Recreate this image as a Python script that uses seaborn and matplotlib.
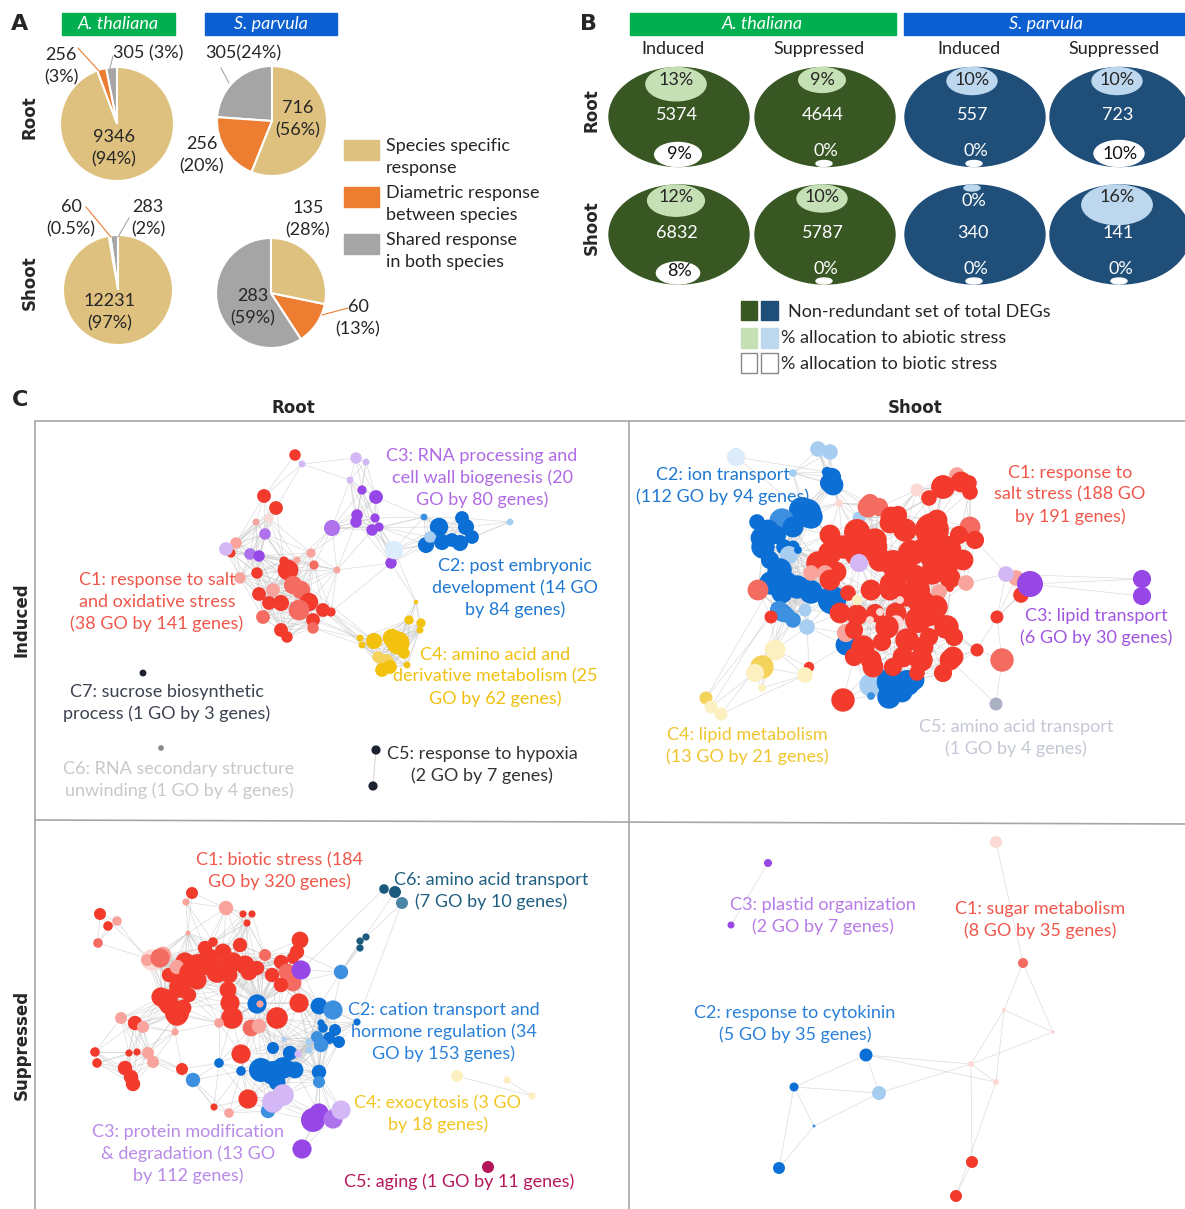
import numpy as np
import pandas as pd
import matplotlib
matplotlib.use("Agg")
import matplotlib.pyplot as plt
import seaborn as sns
from matplotlib.patches import Ellipse, Rectangle
from matplotlib.collections import LineCollection

# ---------------- data ----------------
# panel A: pie slices, order = shared, diametric, species specific
root_athal = [305, 256, 9346]
root_sparv = [305, 256, 716]
shoot_athal = [283, 60, 12231]
shoot_sparv = [283, 60, 135]
pie_legend = ["Species specific\nresponse", "Diametric response\nbetween species", "Shared response\nin both species"]

# panel B: DEG totals and % allocation
b_columns = ["Induced", "Suppressed", "Induced", "Suppressed"]
deg_root = [5374, 4644, 557, 723]
deg_shoot = [6832, 5787, 340, 141]
abiotic_root = [13, 9, 10, 10]
abiotic_shoot = [12, 10, 0, 16]
biotic_root = [9, 0, 0, 10]
biotic_shoot = [8, 0, 0, 0]

# panel C: network nodes (x, y, radius, colour key)
root_ind_nodes = [
    (295, 455, 5, 'r'), (264, 496, 6, 'r'), (276, 508, 6, 'r'), (269, 518, 4, 'r4'), (256, 522, 3, 'r3'),
    (236, 543, 5, 'r3'), (231, 553, 4, 'r'), (257, 573, 5, 'r'), (240, 578, 5, 'r3'), (288, 570, 9, 'r'),
    (297, 560, 3, 'r3'), (311, 553, 4, 'r3'), (314, 565, 4, 'r2'), (337, 570, 3, 'r3'), (259, 594, 6, 'r'),
    (273, 590, 6, 'r3'), (293, 585, 8, 'r2'), (301, 590, 8, 'r2'), (309, 602, 8, 'r'), (299, 610, 9, 'r2'),
    (281, 603, 7, 'r'), (269, 603, 6, 'r'), (263, 617, 6, 'r2'), (323, 610, 6, 'r'), (313, 620, 6, 'r'),
    (313, 628, 5, 'r2'), (281, 630, 6, 'r'), (287, 637, 5, 'r'), (284, 561, 4, 'r'), (331, 612, 4, 'r'),
    (356, 458, 5, 'p3'), (366, 462, 3, 'p3'), (302, 464, 3, 'p3'), (350, 480, 3, 'p3'), (362, 490, 4, 'p'),
    (376, 497, 6, 'p'), (357, 515, 5, 'p'), (356, 522, 5, 'p'), (375, 518, 4, 'p'), (372, 530, 5, 'p'),
    (379, 527, 4, 'p'), (332, 528, 7, 'p2'), (265, 534, 5, 'p2'), (226, 549, 6, 'p3'), (250, 554, 5, 'p2'),
    (259, 556, 5, 'p'), (391, 563, 5, 'p'),
    (424, 517, 3, 'b2'), (439, 527, 8, 'b'), (426, 545, 7, 'b'), (442, 542, 7, 'b'), (430, 537, 5, 'b3'),
    (452, 540, 6, 'b'), (462, 518, 6, 'b'), (466, 527, 7, 'b'), (460, 543, 7, 'b'), (472, 537, 6, 'b'),
    (510, 522, 3, 'b3'), (394, 550, 8, 'b4'),
    (416, 602, 2, 'y'), (409, 620, 4, 'y'), (421, 623, 4, 'y'), (420, 630, 3, 'y'), (374, 641, 7, 'y'),
    (360, 638, 3, 'y'), (362, 645, 3, 'y'), (398, 643, 10, 'y'), (392, 638, 8, 'y'), (386, 662, 7, 'y2'),
    (382, 670, 6, 'y'), (390, 667, 6, 'y'), (407, 665, 3, 'y'), (404, 653, 5, 'y'), (378, 657, 5, 'y2'),
    (143, 673, 3, 'k'), (161, 748, 2.5, 'g'), (376, 750, 4, 'k'), (373, 786, 4, 'k'),
]
root_sup_nodes = [
    (192, 893, 5, 'r'), (186, 902, 3, 'r3'), (226, 908, 6, 'r3'), (243, 914, 3, 'r'), (252, 914, 3, 'r'),
    (247, 923, 3, 'r'), (100, 914, 5, 'r'), (108, 926, 4, 'r'), (117, 921, 4, 'r3'), (98, 943, 4, 'r2'),
    (188, 933, 2, 'r3'), (152, 960, 9, 'r4'), (163, 955, 7, 'r3'), (147, 960, 5, 'r3'), (213, 942, 4, 'r'),
    (297, 952, 6, 'r'), (293, 958, 5, 'r'), (185, 962, 8, 'r'), (197, 965, 9, 'r'), (209, 958, 8, 'r'),
    (223, 952, 7, 'r'), (233, 962, 8, 'r'), (245, 965, 8, 'r'), (217, 972, 9, 'r'), (181, 978, 8, 'r'),
    (197, 980, 8, 'r'), (229, 975, 7, 'r'), (249, 972, 7, 'r'), (257, 968, 6, 'r'), (281, 962, 6, 'r'),
    (287, 972, 7, 'r2'), (293, 983, 7, 'r2'), (281, 985, 6, 'r'), (169, 975, 6, 'r'), (177, 967, 6, 'r3'),
    (161, 997, 8, 'r'), (169, 1005, 8, 'r'), (177, 1015, 9, 'r'), (183, 1008, 7, 'r'), (189, 995, 6, 'r'),
    (230, 1003, 8, 'r'), (232, 1018, 9, 'r'), (121, 1018, 5, 'r3'), (135, 1023, 6, 'r'), (143, 1027, 5, 'r3'),
    (175, 1032, 3, 'r3'), (219, 1023, 4, 'r3'), (251, 1028, 7, 'r2'), (259, 1026, 6, 'r3'), (277, 1018, 9, 'r'),
    (299, 1003, 8, 'r'), (261, 1002, 3, 'r3'), (95, 1052, 4, 'r'), (97, 1063, 4, 'r'), (129, 1053, 3, 'r'),
    (137, 1052, 3, 'r'), (148, 1053, 5, 'r3'), (153, 1062, 5, 'r3'), (125, 1068, 6, 'r'), (131, 1077, 6, 'r'),
    (133, 1084, 6, 'r'), (182, 1069, 5, 'r'), (241, 1054, 8, 'r'), (248, 1099, 8, 'r'), (214, 1107, 3, 'r'),
    (229, 1113, 4, 'r3'), (205, 948, 6, 'r'), (240, 945, 6, 'r'), (265, 955, 5, 'r2'), (272, 975, 6, 'r'),
    (207, 963, 10, 'r'), (227, 967, 9, 'r'), (190, 973, 9, 'r'), (180, 987, 9, 'r'), (167, 1000, 9, 'r'),
    (177, 1013, 10, 'r'), (160, 958, 8, 'r2'), (228, 990, 7, 'r'), (300, 940, 7, 'r'),
    (341, 972, 6, 'b2'), (257, 1004, 8, 'b'), (319, 1006, 7, 'b'), (333, 1010, 8, 'b2'), (321, 1023, 3, 'b'),
    (323, 1028, 4, 'b'), (335, 1030, 5, 'b'), (317, 1037, 5, 'b2'), (329, 1038, 5, 'b'), (339, 1042, 5, 'b'),
    (321, 1045, 6, 'b2'), (309, 1042, 3, 'b3'), (309, 1050, 3, 'b3'), (284, 1039, 2, 'b3'), (273, 1048, 5, 'b'),
    (290, 1053, 6, 'b'), (219, 1063, 4, 'b'), (241, 1071, 4, 'b'), (261, 1070, 10, 'b'), (273, 1073, 10, 'b'),
    (283, 1068, 9, 'b'), (295, 1070, 7, 'b'), (277, 1082, 7, 'b'), (319, 1072, 6, 'b'), (319, 1082, 5, 'b2'),
    (193, 1080, 6, 'b2'), (268, 1111, 6, 'b2'), (357, 1022, 3, 'b'), (260, 1004, 3, 'r3'),
    (301, 970, 8, 'p'), (298, 1054, 3, 'p3'), (273, 1102, 9, 'p3'), (283, 1095, 9, 'p3'), (313, 1120, 10, 'p'),
    (319, 1113, 8, 'p'), (333, 1119, 8, 'p2'), (341, 1110, 8, 'p3'), (302, 1149, 8, 'p'),
    (384, 889, 4, 't'), (395, 892, 5, 't'), (402, 903, 5, 't2'), (366, 937, 3, 't'), (360, 941, 3, 't'),
    (360, 948, 3, 't'),
    (457, 1076, 5, 'y3'), (507, 1080, 3, 'y3'), (532, 1096, 3, 'y3'),
    (488, 1167, 5, 'm'),
]
shoot_ind_nodes = [
    (736, 457, 7, 'b4'), (818, 449, 6, 'b3'), (830, 452, 6, 'b3'), (793, 473, 3, 'b3'), (827, 472, 4, 'b'),
    (833, 485, 8, 'b'), (829, 483, 7, 'b'), (832, 477, 7, 'b'), (802, 510, 10, 'b'), (811, 517, 9, 'b'),
    (807, 513, 11, 'b'), (782, 520, 9, 'b2'), (780, 520, 8, 'b2'),
    (793, 527, 8, 'b'), (768, 530, 8, 'b'), (761, 538, 8, 'b'), (767, 533, 10, 'b'), (763, 547, 9, 'b'),
    (764, 547, 7, 'b'), (777, 535, 7, 'b'),
    (784, 547, 6, 'b'), (793, 547, 5, 'b'), (789, 555, 7, 'b3'), (798, 550, 3, 'b'), (779, 572, 9, 'b'),
    (780, 570, 9, 'b'), (777, 583, 10, 'b'), (797, 587, 9, 'b'), (810, 590, 8, 'b'),
    (771, 583, 9, 'b'), (786, 583, 9, 'b'), (800, 587, 8, 'b'), (811, 592, 9, 'b'), (782, 593, 8, 'b'),
    (832, 600, 11, 'b'), (779, 610, 7, 'b2'), (787, 615, 6, 'b2'), (793, 620, 6, 'b2'), (783, 613, 7, 'b2'),
    (805, 610, 5, 'b3'),
    (807, 627, 6, 'b3'), (859, 518, 5, 'b3'), (846, 645, 8, 'b'), (871, 685, 9, 'b3'), (891, 682, 11, 'b'),
    (907, 683, 10, 'b'), (889, 697, 9, 'b'), (902, 692, 8, 'b'), (914, 680, 8, 'b'), (871, 696, 3, 'b2'),
    (770, 560, 7, 'b'), (757, 522, 6, 'b'),
    (957, 475, 6, 'r3'), (943, 487, 9, 'r'), (961, 482, 8, 'r'), (969, 483, 6, 'r'), (970, 492, 6, 'r'),
    (929, 498, 6, 'r'), (917, 490, 5, 'r4'), (868, 507, 8, 'r2'), (879, 507, 7, 'r2'), (891, 517, 8, 'r'),
    (898, 515, 7, 'r'), (839, 503, 3, 'r4'), (932, 530, 13, 'r'), (970, 527, 8, 'r2'), (959, 535, 7, 'r'),
    (975, 540, 7, 'r'), (830, 535, 8, 'r'), (857, 532, 10, 'r'), (875, 540, 9, 'r'), (843, 547, 9, 'r'),
    (818, 563, 9, 'r'), (836, 572, 8, 'r'), (825, 573, 6, 'r3'), (857, 553, 10, 'r'), (893, 563, 10, 'r'),
    (911, 553, 10, 'r'), (925, 550, 10, 'r'), (936, 560, 11, 'r'), (946, 567, 9, 'r'), (932, 573, 9, 'r'),
    (950, 578, 8, 'r'), (896, 577, 9, 'r'), (966, 583, 6, 'r3'), (811, 573, 6, 'r3'), (871, 590, 8, 'r'),
    (889, 583, 7, 'r'), (907, 595, 9, 'r'), (939, 592, 6, 'r3'), (950, 588, 3, 'r'), (848, 593, 6, 'r'),
    (921, 602, 10, 'r'), (936, 607, 9, 'r'), (857, 615, 8, 'r'), (875, 613, 7, 'r'), (896, 613, 8, 'r'),
    (918, 620, 10, 'r'), (946, 627, 9, 'r'), (870, 620, 3, 'r4'), (896, 623, 6, 'r4'), (846, 633, 7, 'r3'),
    (854, 630, 7, 'r'), (882, 642, 7, 'r'), (907, 640, 9, 'r'), (929, 637, 7, 'r'), (954, 637, 7, 'r'),
    (854, 657, 7, 'r'), (871, 660, 8, 'r'), (893, 667, 7, 'r'), (921, 660, 9, 'r'), (950, 660, 8, 'r'),
    (977, 650, 5, 'r'), (1002, 660, 9, 'r2'), (997, 617, 5, 'r'), (1021, 595, 6, 'r'), (1016, 578, 6, 'r3'),
    (843, 700, 9, 'r'), (758, 590, 8, 'r2'), (771, 617, 5, 'r'), (809, 667, 4, 'r'), (915, 575, 8, 'r'),
    (880, 560, 9, 'r'), (905, 530, 9, 'r'),
    (873, 547, 11, 'r'), (900, 567, 10, 'r'), (947, 550, 11, 'r'), (917, 590, 10, 'r'), (930, 613, 10, 'r'),
    (947, 627, 9, 'r'), (887, 627, 9, 'r'), (863, 647, 9, 'r'), (873, 667, 8, 'r'), (903, 657, 8, 'r'),
    (923, 647, 8, 'r'), (953, 657, 8, 'r'), (840, 613, 8, 'r'), (830, 580, 8, 'r'), (830, 553, 9, 'r'),
    (857, 537, 9, 'r'), (890, 523, 8, 'r'), (870, 503, 7, 'r2'), (897, 517, 7, 'r'), (943, 487, 9, 'r'),
    (963, 483, 7, 'r'), (937, 520, 8, 'r'), (963, 560, 8, 'r'), (890, 590, 8, 'r'), (917, 673, 6, 'r'),
    (943, 673, 7, 'r'),
    (859, 563, 7, 'p3'), (857, 600, 4, 'y3'), (880, 612, 3, 'r4'), (900, 600, 3, 'r4'),
    (1006, 574, 6, 'p3'), (1030, 584, 10, 'p'), (1142, 579, 7, 'p'), (1142, 596, 7, 'p'),
    (775, 650, 8, 'y3'), (762, 667, 9, 'y2'), (755, 673, 7, 'y3'), (805, 675, 6, 'y3'), (762, 688, 3, 'y3'),
    (706, 698, 5, 'y2'), (711, 707, 5, 'y3'), (721, 714, 5, 'y3'),
    (996, 704, 5, 'gb'),
]
shoot_sup_nodes = [
    (768, 863, 4, 'p'), (731, 925, 3.5, 'p'),
    (996, 842, 6, 'r4'), (1023, 963, 5, 'r2'), (1004, 1010, 2, 'r4'), (1053, 1032, 2, 'r4'),
    (971, 1064, 3, 'r4'), (996, 1082, 3, 'r4'), (972, 1162, 6, 'r'), (956, 1196, 6, 'r'),
    (866, 1055, 6.5, 'b'), (794, 1087, 4.5, 'b'), (879, 1093, 7, 'b3'), (814, 1126, 1.5, 'b2'), (779, 1168, 6, 'b'),
]

# extra long links (pairs of nodes)
shoot_ind_links = [((1030, 584), (1142, 579)), ((1030, 584), (1142, 596)), ((1006, 574), (1142, 579)),
                   ((762, 667), (779, 610)), ((706, 698), (771, 617)), ((711, 707), (782, 593)),
                   ((721, 714), (805, 675)), ((755, 673), (811, 573)), ((736, 457), (802, 510)),
                   ((818, 449), (829, 483)), ((736, 457), (827, 472)), ((706, 698), (779, 572)),
                   ((721, 714), (793, 620)), ((711, 707), (762, 667)), ((1006, 574), (975, 540)),
                   ((1030, 584), (997, 617)), ((996, 704), (950, 660))]
shoot_sup_links = [((768, 863), (731, 925)), ((996, 842), (1023, 963)), ((1023, 963), (1004, 1010)),
                   ((1023, 963), (1053, 1032)), ((1004, 1010), (971, 1064)), ((1004, 1010), (996, 1082)),
                   ((1004, 1010), (1053, 1032)), ((1053, 1032), (971, 1064)), ((971, 1064), (996, 1082)),
                   ((971, 1064), (972, 1162)), ((996, 1082), (956, 1196)), ((972, 1162), (956, 1196)),
                   ((866, 1055), (794, 1087)), ((866, 1055), (879, 1093)), ((794, 1087), (879, 1093)),
                   ((794, 1087), (814, 1126)), ((794, 1087), (779, 1168)), ((814, 1126), (879, 1093)),
                   ((779, 1168), (814, 1126)), ((866, 1055), (996, 1082)), ((879, 1093), (971, 1064)),
                   ((866, 1055), (971, 1064))]
root_ind_links = [((376, 750), (373, 786)), ((331, 612), (391, 563)), ((288, 570), (374, 641)),
                  ((259, 594), (360, 638)), ((394, 550), (416, 602)), ((332, 528), (439, 527))]
root_sup_links = [((457, 1076), (532, 1096)), ((395, 892), (341, 972)), ((384, 889), (301, 970)),
                  ((402, 903), (357, 1022)), ((152, 960), (100, 914)), ((98, 943), (152, 960))]

# cluster labels: text, x, y, colour
root_ind_labels = [
    ("C3: RNA processing and\ncell wall biogenesis (20\nGO by 80 genes)", 482, 478, '#b06ae6'),
    ("C2: post embryonic\ndevelopment (14 GO\nby 84 genes)", 515, 588, '#1f78d1'),
    ("C1: response to salt\nand oxidative stress\n(38 GO by 141 genes)", 157, 602, '#f0574a'),
    ("C4: amino acid and\nderivative metabolism (25\nGO by 62 genes)", 495, 677, '#f0c010'),
    ("C7: sucrose biosynthetic\nprocess (1 GO by 3 genes)", 167, 703, '#3c4250'),
    ("C6: RNA secondary structure\nunwinding (1 GO by 4 genes)", 179, 780, '#c8c8c8'),
    ("C5: response to hypoxia\n(2 GO by 7 genes)", 482, 765, '#333333'),
]
shoot_ind_labels = [
    ("C2: ion transport\n(112 GO by 94 genes)", 723, 486, '#1f78d1'),
    ("C1: response to\nsalt stress (188 GO\nby 191 genes)", 1070, 495, '#f0574a'),
    ("C3: lipid transport\n(6 GO by 30 genes)", 1096, 627, '#a055e2'),
    ("C4: lipid metabolism\n(13 GO by 21 genes)", 747, 746, '#f0c530'),
    ("C5: amino acid transport\n(1 GO by 4 genes)", 1016, 738, '#c3c8d4'),
]
root_sup_labels = [
    ("C1: biotic stress (184\nGO by 320 genes)", 279, 871, '#f0574a'),
    ("C6: amino acid transport\n(7 GO by 10 genes)", 491, 891, '#1f5f82'),
    ("C2: cation transport and\nhormone regulation (34\nGO by 153 genes)", 444, 1032, '#2a80d8'),
    ("C4: exocytosis (3 GO\nby 18 genes)", 438, 1114, '#f3c520'),
    ("C3: protein modification\n& degradation (13 GO\nby 112 genes)", 188, 1154, '#b88ae8'),
    ("C5: aging (1 GO by 11 genes)", 459, 1182, '#b5185c'),
]
shoot_sup_labels = [
    ("C3: plastid organization\n(2 GO by 7 genes)", 823, 916, '#b77be8'),
    ("C1: sugar metabolism\n(8 GO by 35 genes)", 1040, 920, '#f0574a'),
    ("C2: response to cytokinin\n(5 GO by 35 genes)", 795, 1024, '#2a80d8'),
]

node_palette = {
    'r': '#f33b2d', 'r2': '#f46b62', 'r3': '#f8a39c', 'r4': '#fcd9d5',
    'b': '#0b6fd5', 'b2': '#3d8fe0', 'b3': '#a7cdf1', 'b4': '#dcecfb',
    'p': '#9747e6', 'p2': '#ad72ec', 'p3': '#d3b8f5',
    'y': '#f3c20f', 'y2': '#f5d35a', 'y3': '#fcf0c0',
    't': '#1b5a7e', 't2': '#4a86a6', 'k': '#1c2230', 'g': '#8a8a8a',
    'gb': '#a9b1c2', 'm': '#b3175a',
}

# ---------------- figure ----------------
sns.set_style("white")
plt.rcParams["font.family"] = ["Lato", "DejaVu Sans"]

W, H = 1185, 1209
fig = plt.figure(figsize=(W / 100, H / 100), dpi=100)
FS = 13
LS = 1.45
# bold faces: DejaVu Sans ships with a bold weight
BOLD = dict(fontsize=12, fontweight="bold", family="DejaVu Sans")
LETTER = dict(fontsize=16, fontweight="bold", family="DejaVu Sans")

# pies (each in its own axes so the library draws the wedges)
pie_colors = ["#a5a5a5", "#ed7d31", "#dfc17f"]
for (cx, cy, r), vals in zip([(117, 124, 57), (272, 121, 55), (118, 290, 55), (271, 293, 55)],
                             [root_athal, root_sparv, shoot_athal, shoot_sparv]):
    pax = fig.add_axes([(cx - r) / W, 1 - (cy + r) / H, 2 * r / W, 2 * r / H])
    pax.pie(vals, colors=pie_colors, startangle=90, counterclock=True,
            wedgeprops=dict(edgecolor="white", linewidth=1.5))
    pax.set_xlim(-1.0, 1.0)
    pax.set_ylim(-1.0, 1.0)
    pax.set_aspect("auto")
    pax.axis("off")

# overlay axes in pixel coordinates of the picture
ax = fig.add_axes([0, 0, 1, 1])
ax.axis("off")


def pct(v):
    return 100 * np.array(v) / np.sum(v)


# ---- panel A text ----
ax.text(20, 24, "A", ha="center", va="center", **LETTER)
ax.add_patch(Rectangle((62, 13), 113, 22, color="#00b050"))
ax.add_patch(Rectangle((205, 13), 132, 22, color="#0b5fd0"))
ax.text(118, 24, "A. thaliana", color="white", style="italic", fontsize=FS, ha="center", va="center")
ax.text(271, 24, "S. parvula", color="white", style="italic", fontsize=FS, ha="center", va="center")
ax.text(30, 117, "Root", rotation=90, ha="center", va="center", **BOLD)
ax.text(30, 283, "Shoot", rotation=90, ha="center", va="center", **BOLD)

p = pct(root_athal)
ax.text(61, 66, f"{root_athal[1]}\n({p[1]:.0f}%)", fontsize=FS, ha="center", va="center", linespacing=LS)
ax.text(148, 53, f"{root_athal[0]} ({p[0]:.0f}%)", fontsize=FS, ha="center", va="center")
ax.text(114, 148, f"{root_athal[2]}\n({p[2]:.0f}%)", fontsize=FS, ha="center", va="center", linespacing=LS)
ax.plot([78, 99], [48, 71], color="#ed7d31", lw=0.8)
ax.plot([113, 110], [56, 68], color="#a5a5a5", lw=0.8)
p = pct(root_sparv)
ax.text(243, 53, f"{root_sparv[0]}({p[0]:.0f}%)", fontsize=FS, ha="center", va="center")
ax.text(298, 119, f"{root_sparv[2]}\n({p[2]:.0f}%)", fontsize=FS, ha="center", va="center", linespacing=LS)
ax.text(202, 155, f"{root_sparv[1]}\n({p[1]:.0f}%)", fontsize=FS, ha="center", va="center", linespacing=LS)
ax.plot([221, 229], [68, 83], color="#a5a5a5", lw=0.8)
p = pct(shoot_athal)
ax.text(71, 218, f"{shoot_athal[1]}\n({p[1]:.1f}%)", fontsize=FS, ha="center", va="center", linespacing=LS)
ax.text(148, 218, f"{shoot_athal[0]}\n({p[0]:.0f}%)", fontsize=FS, ha="center", va="center", linespacing=LS)
ax.text(110, 312, f"{shoot_athal[2]}\n({p[2]:.0f}%)", fontsize=FS, ha="center", va="center", linespacing=LS)
ax.plot([86, 111], [207, 237], color="#ed7d31", lw=0.8)
ax.plot([129, 118], [218, 237], color="#a5a5a5", lw=0.8)
p = pct(shoot_sparv)
ax.text(308, 219, f"{shoot_sparv[2]}\n({p[2]:.0f}%)", fontsize=FS, ha="center", va="center", linespacing=LS)
ax.text(253, 307, f"{shoot_sparv[0]}\n({p[0]:.0f}%)", fontsize=FS, ha="center", va="center", linespacing=LS)
ax.text(358, 318, f"{shoot_sparv[1]}\n({p[1]:.0f}%)", fontsize=FS, ha="center", va="center", linespacing=LS)
ax.plot([322, 348], [315, 308], color="#ed7d31", lw=0.8)

for i, (lab, col) in enumerate(zip(pie_legend, pie_colors[::-1])):
    y0 = 140 + i * 47
    ax.add_patch(Rectangle((344, y0), 35, 20, color=col))
    ax.text(386, y0 + 17, lab, fontsize=FS, ha="left", va="center", linespacing=LS)

# ---- panel B ----
ax.text(588, 24, "B", ha="center", va="center", **LETTER)
ax.add_patch(Rectangle((630, 13), 266, 22, color="#00b050"))
ax.add_patch(Rectangle((904, 13), 290, 22, color="#0b5fd0"))
ax.text(762, 24, "A. thaliana", color="white", style="italic", fontsize=FS, ha="center", va="center")
ax.text(1046, 24, "S. parvula", color="white", style="italic", fontsize=FS, ha="center", va="center")
ax.text(592, 110, "Root", rotation=90, ha="center", va="center", **BOLD)
ax.text(592, 228, "Shoot", rotation=90, ha="center", va="center", **BOLD)

col_x = [679, 825, 975, 1120]
dark = ["#385723", "#385723", "#1f4e79", "#1f4e79"]
light = ["#c5e0b4", "#c5e0b4", "#bdd7ee", "#bdd7ee"]
for cx, name in zip(col_x, b_columns):
    ax.text(cx - 6, 49, name, fontsize=FS, ha="center", va="center", color="#222222")

for cy, degs, abio, bio in [(117, deg_root, abiotic_root, biotic_root),
                             (234.5, deg_shoot, abiotic_shoot, biotic_shoot)]:
    for i, cx in enumerate(col_x):
        ax.add_patch(Ellipse((cx, cy), 140, 99, color=dark[i]))
        ax.text(cx - 2, cy - 2, f"{degs[i]}", color="white", fontsize=FS, ha="center", va="center")
        # abiotic share at top
        rx, ry = 8 + 1.7 * abio[i], 3 + 1.05 * abio[i]
        ax.add_patch(Ellipse((cx - 3, cy - 49.5 + ry), 2 * rx, 2 * ry, color=light[i]))
        if abio[i] > 0:
            ax.text(cx - 3, cy - 37, f"{abio[i]}%", color="#262626", fontsize=FS, ha="center", va="center")
        else:
            ax.text(cx - 1, cy - 33, f"{abio[i]}%", color="white", fontsize=FS, ha="center", va="center")
        # biotic share at bottom
        rx, ry = 8 + 1.7 * bio[i], 3 + 1.0 * bio[i]
        ax.add_patch(Ellipse((cx - 1, cy + 49.5 - ry), 2 * rx, 2 * ry, color="white"))
        if bio[i] > 0:
            ax.text(cx, cy + 37, f"{bio[i]}%", color="#111111", fontsize=FS, ha="center", va="center")
        else:
            ax.text(cx + 1, cy + 34, f"{bio[i]}%", color="white", fontsize=FS, ha="center", va="center")

ax.add_patch(Rectangle((741, 301), 16, 19, color="#385723"))
ax.add_patch(Rectangle((761, 301), 17, 19, color="#1f4e79"))
ax.text(788, 312, "Non-redundant set of total DEGs", fontsize=FS, ha="left", va="center")
ax.add_patch(Rectangle((741, 328), 16, 20, color="#c5e0b4"))
ax.add_patch(Rectangle((761, 328), 17, 20, color="#bdd7ee"))
ax.text(781, 338, "% allocation to abiotic stress", fontsize=FS, ha="left", va="center")
ax.add_patch(Rectangle((741, 353), 16, 20, facecolor="white", edgecolor="#888888", lw=1))
ax.add_patch(Rectangle((761, 353), 17, 20, facecolor="white", edgecolor="#888888", lw=1))
ax.text(781, 364, "% allocation to biotic stress", fontsize=FS, ha="left", va="center")

# ---- panel C ----
ax.text(20, 400, "C", ha="center", va="center", **LETTER)
ax.text(293, 408, "Root", ha="center", va="center", **BOLD)
ax.text(915, 408, "Shoot", ha="center", va="center", **BOLD)
ax.text(22, 620, "Induced", rotation=90, ha="center", va="center", **BOLD)
ax.text(22, 1045, "Suppressed", rotation=90, ha="center", va="center", **BOLD)
grid_kw = dict(color="#a6a6a6", lw=1.2)
ax.plot([35, 1185], [421, 421], **grid_kw)
ax.plot([35, 35], [421, 1209], **grid_kw)
ax.plot([629, 629], [421, 1209], **grid_kw)
ax.plot([35, 1185], [820, 824], **grid_kw)


def proximity_edges(nodes, max_dist):
    pts = np.array([(n[0], n[1]) for n in nodes], dtype=float)
    segs = []
    for i in range(len(pts)):
        for j in range(i + 1, len(pts)):
            if np.hypot(*(pts[i] - pts[j])) < max_dist:
                segs.append([pts[i], pts[j]])
    return segs


# (nodes, long links, proximity for edges, radius scale, labels)
panels = [(root_ind_nodes, root_ind_links, 55, 1.15, root_ind_labels),
          (root_sup_nodes, root_sup_links, 50, 1.2, root_sup_labels),
          (shoot_ind_nodes, shoot_ind_links, 45, 1.3, shoot_ind_labels),
          (shoot_sup_nodes, shoot_sup_links, 0, 1.0, shoot_sup_labels)]
for nodes, links, dist, rscale, labels in panels:
    segs = proximity_edges(nodes, dist) + [list(l) for l in links]
    ax.add_collection(LineCollection(segs, colors="#c4c4c4", linewidths=0.5, alpha=0.6, zorder=1))
    df = pd.DataFrame(nodes, columns=["x", "y", "r", "c"])
    sns.scatterplot(data=df, x="x", y="y", hue="c", palette=node_palette,
                    s=(df["r"] * rscale * 1.44) ** 2,
                    linewidth=0, legend=False, ax=ax, zorder=3)
    for txt, x, y, col in labels:
        ax.text(x, y, txt, color=col, fontsize=FS, ha="center", va="center", linespacing=1.4, zorder=4)

ax.set_xlim(0, W)
ax.set_ylim(H, 0)
ax.axis("off")

fig.savefig("out.png", dpi=100)
